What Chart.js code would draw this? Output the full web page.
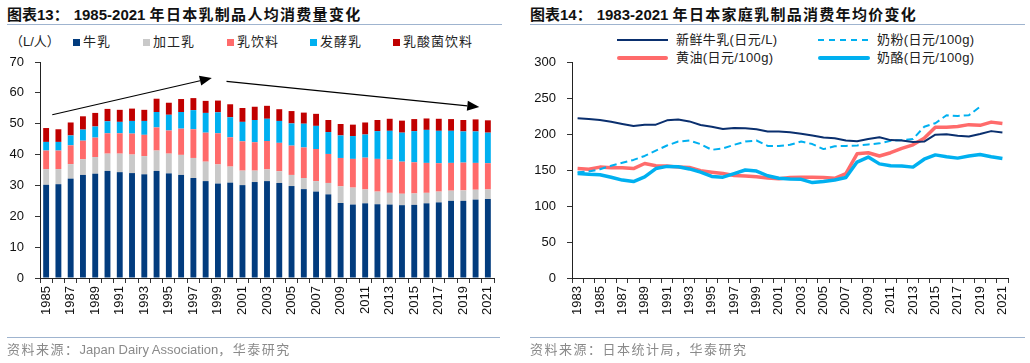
<!DOCTYPE html>
<html>
<head>
<meta charset="utf-8">
<script src="https://cdn.jsdelivr.net/npm/chart.js@4.4.1/dist/chart.umd.min.js"></script>
<style>
  body { margin: 0; background: #fff; width: 1030px; height: 363px; overflow: hidden; position: relative;
         font-family: "Liberation Sans", Arial, "Noto Sans CJK SC", sans-serif; }
  .abs { position: absolute; white-space: nowrap; }
  .title { font-size: 15px; font-weight: bold; color: #111; top: 5px; line-height: 20px; }
  .title .cn { letter-spacing: 1.3px; }
  .rule { position: absolute; height: 1px; background: #9fb4cf; }
  .src { font-size: 13px; color: #8a8a8a; top: 341px; line-height: 18px; }
  .src .cn { letter-spacing: 1.5px; }
  .leg { font-size: 13px; color: #222; line-height: 16px; }
  .sq { position: absolute; width: 7px; height: 7px; }
  .ln { position: absolute; }
  canvas { position: absolute; top: 0; }
</style>
</head>
<body>

<div class="abs title" style="left:7px">图表13：<span style="margin-left:5px">1985-2021</span> <span class="cn">年日本乳制品人均消费量变化</span></div>
<div class="rule" style="left:7px; width:495px; top:24px"></div>
<div class="abs title" style="left:530px">图表14：<span style="margin-left:5px">1983-2021</span> <span class="cn">年日本家庭乳制品消费年均价变化</span></div>
<div class="rule" style="left:530px; width:495px; top:24px"></div>

<!-- left legend -->
<div class="abs leg" style="left:10px; top:34px">（L/人）</div>
<div class="sq" style="left:73px; top:39px; background:#023c7e"></div>
<div class="abs leg" style="left:83px; top:34px; letter-spacing:1px">牛乳</div>
<div class="sq" style="left:143px; top:39px; background:#c9c9c9"></div>
<div class="abs leg" style="left:153px; top:34px; letter-spacing:1px">加工乳</div>
<div class="sq" style="left:227px; top:39px; background:#ff6b6b"></div>
<div class="abs leg" style="left:237px; top:34px; letter-spacing:1px">乳饮料</div>
<div class="sq" style="left:310px; top:39px; background:#00b0f0"></div>
<div class="abs leg" style="left:320px; top:34px; letter-spacing:1px">发酵乳</div>
<div class="sq" style="left:393px; top:39px; background:#c00000"></div>
<div class="abs leg" style="left:403px; top:34px; letter-spacing:1px">乳酸菌饮料</div>

<!-- right legend -->
<div class="ln" style="left:617px; top:39px; width:51px; height:2px; background:#0a2f6e"></div>
<div class="abs leg" style="left:676px; top:32px; letter-spacing:0.4px">新鲜牛乳(日元/L)</div>
<div class="ln" style="left:818px; top:39px; width:50px; height:0; border-top:2px dashed #00b0f0"></div>
<div class="abs leg" style="left:877px; top:32px; letter-spacing:0.4px">奶粉(日元/100g)</div>
<div class="ln" style="left:617px; top:56px; width:51px; height:4px; background:#ff6b6b; border-radius:2px"></div>
<div class="abs leg" style="left:676px; top:50px; letter-spacing:0.4px">黄油(日元/100g)</div>
<div class="ln" style="left:818px; top:56px; width:52px; height:4px; background:#00b0f0; border-radius:2px"></div>
<div class="abs leg" style="left:877px; top:50px; letter-spacing:0.4px">奶酪(日元/100g)</div>

<canvas id="consumeChart" width="515" height="340" style="left:0"></canvas>
<canvas id="priceChart" width="515" height="340" style="left:515px"></canvas>

<div class="rule" style="left:7px; width:493px; top:337px"></div>
<div class="abs src" style="left:7px"><span class="cn">资料来源：</span>Japan Dairy Association<span class="cn">，华泰研究</span></div>
<div class="rule" style="left:530px; width:495px; top:337px"></div>
<div class="abs src" style="left:530px"><span class="cn">资料来源：日本统计局，华泰研究</span></div>

<script>
// 图表13 data (L/人)
const years13 = ['1985','1986','1987','1988','1989','1990','1991','1992','1993','1994',
    '1995','1996','1997','1998','1999','2000','2001','2002','2003','2004',
    '2005','2006','2007','2008','2009','2010','2011','2012','2013','2014',
    '2015','2016','2017','2018','2019','2020','2021'];
const milk      = [30.2,30.4,32.2,33.4,33.8,34.7,34.3,34.0,33.6,34.7,33.9,33.4,32.4,31.4,30.6,30.9,30.1,31.1,31.4,30.8,
                   29.8,28.8,28.0,27.1,24.3,23.8,24.2,23.9,23.8,23.6,23.7,24.2,24.5,25.0,25.0,25.4,25.6];
const processed = [5.1,4.9,4.7,5.1,5.4,5.6,6.0,6.0,5.9,6.6,6.4,6.5,6.5,6.3,6.2,5.2,4.7,3.7,3.8,3.8,
                   3.6,3.6,3.4,3.7,5.4,5.5,4.5,4.1,3.8,3.7,3.7,3.4,3.5,3.3,3.4,3.2,3.1];
const milkDrink = [6.0,6.0,6.1,6.0,6.3,6.6,6.6,6.8,6.9,7.5,7.5,8.5,9.3,9.4,10.1,9.5,9.5,9.2,9.2,9.2,
                   9.5,9.9,10.4,9.4,9.2,9.3,10.3,10.6,10.8,10.4,10.1,9.7,9.2,9.0,9.0,8.7,8.5];
const fermented = [2.8,2.8,3.2,3.6,3.6,3.9,3.7,4.1,4.5,5.0,5.1,5.4,6.2,6.4,6.8,6.5,6.3,7.2,7.2,7.1,
                   7.2,7.7,7.5,7.1,7.3,7.4,7.5,9.0,9.3,9.4,10.1,10.7,10.5,10.4,10.1,10.2,9.9];
const lactic    = [4.5,4.1,4.2,4.3,4.4,4.0,3.9,4.0,3.6,4.3,3.9,4.2,3.9,3.9,3.8,4.2,4.5,4.3,4.2,3.8,
                   4.0,3.6,3.9,3.9,3.7,3.7,3.9,3.6,3.9,3.9,3.9,3.7,3.9,3.8,3.7,3.9,4.0];
const ticks13 = [0, 70, 10];
// trend arrows, [category index, value]
const trendArrows = [
    { from: [0.5, 52.9], to: [13.5, 64.8] },
    { from: [14.7, 63.7], to: [35.3, 55.4] }
];

// 图表14 data
const years14 = ['1983','1984','1985','1986','1987','1988','1989','1990','1991','1992',
    '1993','1994','1995','1996','1997','1998','1999','2000','2001','2002',
    '2003','2004','2005','2006','2007','2008','2009','2010','2011','2012',
    '2013','2014','2015','2016','2017','2018','2019','2020','2021'];
const freshMilk = [222,221,219.5,217,214,211,213,213,219,220,217.5,212.5,210,207,208.5,208,206.5,203.5,203.5,202.5,
                   200.5,198,195,194,191,190,193,195.5,191.5,191,189,189.5,199,199.5,197.5,196.5,200,204,202];
const powder    = [147,148,151,156,160,164,169.5,177,184,189.5,191,186,178,180,185,189.5,191,183.5,183.5,185,
                   189.5,186,179,183,183.5,184,185.5,187,190.5,191.5,193,210,215,226,225,226,238,null,null];
const butter    = [152,151,154,153,153,152,159,156,155.5,154,153.5,149,147,145,142.5,141.5,140.5,139,138,139.5,
                   140,140,139.5,138.5,145,172.5,174,169.5,174,180,185,194,209.5,209.5,210.5,213,212,216.5,214.5];
const cheese    = [145,144,143.5,140,136,134,140.5,152,155,154.5,151.5,147,141,140,145,150,148.5,142,138.5,137.5,
                   137,132.5,134,136,139.5,161,168,158.5,156,155.5,154,165,171,168.5,166.5,169.5,171.5,168.5,166];
const ticks14 = [0, 300, 50];

Chart.defaults.font.family = '"Liberation Sans", Arial, sans-serif';
Chart.defaults.font.size = 13;
Chart.defaults.color = '#111';

function everyOther(v, i) {
    return i % 2 === 0 ? this.getLabelForValue(v) : '';
}

function xAxis() {
    return {
        offset: true,
        grid: { drawOnChartArea: false, drawTicks: true, tickLength: 5, color: '#333', offset: true },
        border: { color: '#222', width: 1 },
        ticks: { autoSkip: false, maxRotation: 90, minRotation: 90, padding: 3, color: '#111', callback: everyOther },
        afterFit: s => { s.height = 60; }
    };
}

function yAxis(t, w) {
    return {
        min: t[0], max: t[1],
        grid: { drawOnChartArea: false, drawTicks: true, tickLength: 5, color: '#333' },
        border: { color: '#222', width: 1 },
        ticks: { stepSize: t[2], padding: 11, color: '#111' },
        afterFit: s => { s.width = w; }
    };
}

const arrowPlugin = {
    id: 'trendArrows',
    afterDatasetsDraw(chart) {
        const { ctx, scales: { x, y } } = chart;
        ctx.save();
        ctx.strokeStyle = '#000';
        ctx.fillStyle = '#000';
        ctx.lineWidth = 1.2;
        trendArrows.forEach(a => {
            const x0 = x.getPixelForValue(a.from[0]), y0 = y.getPixelForValue(a.from[1]);
            const x1 = x.getPixelForValue(a.to[0]), y1 = y.getPixelForValue(a.to[1]);
            const ang = Math.atan2(y1 - y0, x1 - x0);
            const hl = 12, hw = 5;
            const bx = x1 - hl * Math.cos(ang), by = y1 - hl * Math.sin(ang);
            ctx.beginPath();
            ctx.moveTo(x0, y0);
            ctx.lineTo(bx, by);
            ctx.stroke();
            ctx.beginPath();
            ctx.moveTo(x1, y1);
            ctx.lineTo(bx + hw * Math.sin(ang), by - hw * Math.cos(ang));
            ctx.lineTo(bx - hw * Math.sin(ang), by + hw * Math.cos(ang));
            ctx.closePath();
            ctx.fill();
        });
        ctx.restore();
    }
};

const barDs = (label, data, color) => ({
    label, data, backgroundColor: color, borderWidth: 0,
    barPercentage: 0.48, categoryPercentage: 1.0
});

new Chart(document.getElementById('consumeChart'), {
    type: 'bar',
    data: {
        labels: years13,
        datasets: [
            barDs('牛乳', milk, '#023c7e'),
            barDs('加工乳', processed, '#c9c9c9'),
            barDs('乳饮料', milkDrink, '#ff6b6b'),
            barDs('发酵乳', fermented, '#00b0f0'),
            barDs('乳酸菌饮料', lactic, '#c00000')
        ]
    },
    options: {
        responsive: false,
        animation: false,
        devicePixelRatio: 1,
        layout: { padding: { top: 62, right: 21, bottom: 2, left: 0 } },
        plugins: { legend: { display: false }, tooltip: { enabled: false } },
        scales: {
            x: Object.assign(xAxis(), { stacked: true }),
            y: Object.assign(yAxis(ticks13, 40), { stacked: true })
        }
    },
    plugins: [arrowPlugin]
});

new Chart(document.getElementById('priceChart'), {
    type: 'line',
    data: {
        labels: years14,
        datasets: [
            { label: '新鲜牛乳(日元/L)', data: freshMilk, borderColor: '#0a2f6e', borderWidth: 2 },
            { label: '奶粉(日元/100g)', data: powder, borderColor: '#00b0f0', borderWidth: 2, borderDash: [7, 4] },
            { label: '奶酪(日元/100g)', data: cheese, borderColor: '#00b0f0', borderWidth: 3.5 },
            { label: '黄油(日元/100g)', data: butter, borderColor: '#ff6b6b', borderWidth: 3.5 }
        ]
    },
    options: {
        responsive: false,
        animation: false,
        devicePixelRatio: 1,
        elements: { point: { radius: 0 }, line: { tension: 0, borderJoinStyle: 'round', borderCapStyle: 'butt' } },
        layout: { padding: { top: 62, right: 22, bottom: 2, left: 0 } },
        plugins: { legend: { display: false }, tooltip: { enabled: false } },
        scales: {
            x: xAxis(),
            y: yAxis(ticks14, 57)
        }
    }
});
</script>
</body>
</html>
